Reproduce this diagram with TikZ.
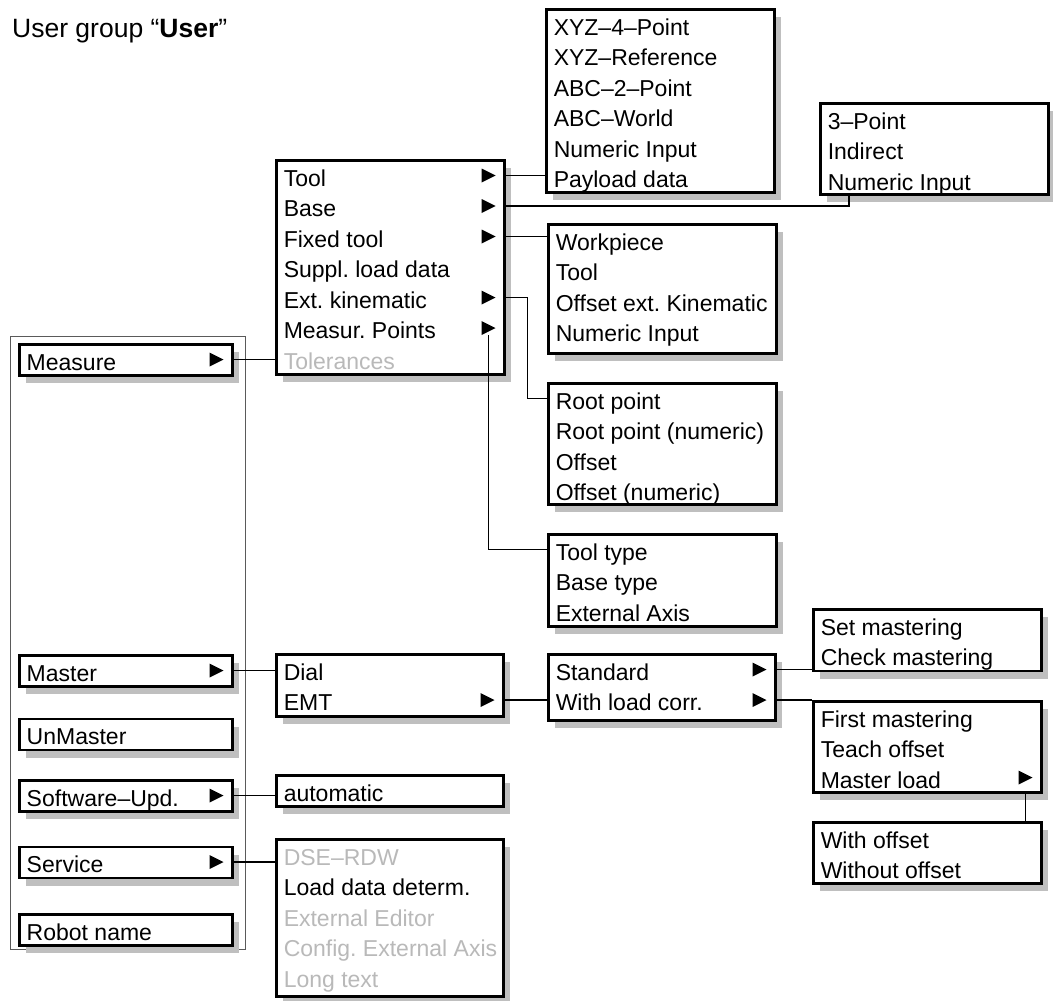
\documentclass[tikz,border=0pt]{standalone}
\usepackage{fontspec}
\setmainfont{Liberation Sans}
\usetikzlibrary{positioning, calc, shadows}
\definecolor{shadowgray}{RGB}{191,191,191}
\definecolor{offgray}{RGB}{185,185,185}
\definecolor{framegray}{RGB}{90,90,90}
\tikzset{
    menu/.style={draw, line width=2.5pt, fill=white, inner sep=0pt, anchor=north west,
        drop shadow={shadow xshift=7pt, shadow yshift=-8pt, opacity=1, fill=shadowgray}},
    groupframe/.style={draw=framegray, line width=1.2pt, inner sep=0pt, anchor=north west},
    link/.style={line width=1.3pt}
}
\newcommand{\menufont}{\fontsize{23}{30.5}\selectfont\frenchspacing}
\newcommand{\menustrut}{\rule[-4.5pt]{0pt}{30.5pt}}
\newcommand{\rows}[3]{\parbox[t][#2][t]{#1}{\menufont\leftskip=7.5pt\relax\menustrut#3}}
\newcommand{\greyed}[1]{\textcolor{offgray}{#1}}
\newcommand{\submark}[2]{\fill ($(#1.north east)+(-10,#2)$) -- ++(-14,-7) -- ++(0,14) -- cycle;}

\begin{document}
\begin{tikzpicture}[x=1pt, y=-1pt]

    \useasboundingbox (0,0) rectangle (1053,1001);

    \node[anchor=base west, inner sep=0pt, font=\fontsize{26.5}{32}\selectfont] (title) at (12,37) {User group “\textbf{User}”};

    \node[groupframe, minimum width=235pt, minimum height=613pt] (mainmenu) at (10,336) {};

    \node[menu] (measure) at (18,343) {\rows{213pt}{31pt}{Measure}};
    \node[menu] (master) at (18,654) {\rows{213pt}{31pt}{Master}};
    \node[menu, below=30pt of master.south west, anchor=north west] (unmaster) {\rows{213pt}{31pt}{UnMaster}};
    \node[menu, below=28pt of unmaster.south west, anchor=north west] (softupd) {\rows{213pt}{31pt}{Software–Upd.}};
    \node[menu, below=33pt of softupd.south west, anchor=north west] (service) {\rows{213pt}{31pt}{Service}};
    \node[menu, below=34pt of service.south west, anchor=north west] (robot) {\rows{213pt}{31pt}{Robot name}};

    \node[menu] (meas) at (275,159) {\rows{228pt}{214pt}{Tool\\Base\\Fixed tool\\Suppl. load data\\Ext. kinematic\\Measur. Points\\\greyed{Tolerances}}};
    \node[menu] (xyz) at (545,8) {\rows{228pt}{183pt}{XYZ–4–Point\\XYZ–Reference\\ABC–2–Point\\ABC–World\\Numeric Input\\Payload data}};
    \node[menu] (threept) at (819,102) {\rows{228pt}{91pt}{3–Point\\Indirect\\Numeric Input}};
    \node[menu] (fixed) at (547,223) {\rows{228pt}{129pt}{Workpiece\\Tool\\Offset ext. Kinematic\\Numeric Input}};
    \node[menu] (extkin) at (547,382) {\rows{228pt}{121pt}{Root point\\Root point (numeric)\\Offset\\Offset (numeric)}};
    \node[menu] (points) at (547,533) {\rows{228pt}{92pt}{Tool type\\Base type\\External Axis}};

    \node[menu] (dial) at (275,653) {\rows{227pt}{62pt}{Dial\\EMT}};
    \node[menu] (autoupd) at (275,774) {\rows{227pt}{31pt}{automatic}};
    \node[menu] (serv) at (275,838) {\rows{227pt}{157pt}{\greyed{DSE–RDW}\\Load data determ.\\\greyed{External Editor}\\\greyed{Config. External Axis}\\\greyed{Long text}}};
    \node[menu] (emt) at (547,653) {\rows{227pt}{66pt}{Standard\\With load corr.}};
    \node[menu] (setm) at (812,608) {\rows{228pt}{61.5pt}{Set mastering\\Check mastering}};
    \node[menu] (firstm) at (812,700) {\rows{228pt}{91pt}{First mastering\\Teach offset\\Master load}};
    \node[menu] (offs) at (812,821) {\rows{228pt}{61pt}{With offset\\Without offset}};

    \submark{measure}{16.5}
    \submark{master}{16.5}
    \submark{softupd}{16.5}
    \submark{service}{16.5}
    \submark{meas}{16.5}
    \submark{meas}{47}
    \submark{meas}{77.5}
    \submark{meas}{138.5}
    \submark{meas}{169}
    \submark{dial}{47}
    \submark{emt}{16.5}
    \submark{emt}{47}
    \submark{firstm}{77.5}

    \coordinate (measure-out) at ($(measure.north east)+(0,16.5)$);
    \coordinate (master-out) at ($(master.north east)+(0,16.5)$);
    \coordinate (softupd-out) at ($(softupd.north east)+(0,16.5)$);
    \coordinate (service-out) at ($(service.north east)+(0,16.5)$);
    \coordinate (m-tool) at ($(meas.north east)+(0,16.5)$);
    \coordinate (m-base) at ($(meas.north east)+(0,47)$);
    \coordinate (m-fixed) at ($(meas.north east)+(0,77.5)$);
    \coordinate (m-ext) at ($(meas.north east)+(0,138.5)$);
    \coordinate (m-points) at ($(meas.north east)+(-17,176)$);
    \coordinate (b-in) at ($(threept.south west)+(30,0)$);
    \coordinate (e-in) at ($(extkin.north west)+(0,16.5)$);
    \coordinate (p-in) at ($(points.north west)+(0,16.5)$);
    \coordinate (d-emt) at ($(dial.north east)+(0,47)$);
    \coordinate (s-std) at ($(emt.north east)+(0,16.5)$);
    \coordinate (s-load) at ($(emt.north east)+(0,47)$);

    \draw[link] (measure-out) -- (measure-out -| meas.west);
    \draw[link] (m-tool) -- (m-tool -| xyz.west);
    \draw[link] (m-base) -| (b-in);
    \draw[link] (m-fixed) -- (m-fixed -| fixed.west);
    \draw[link] (m-ext) -- ++(22,0) |- (e-in);
    \draw[link] (m-points) |- (p-in);
    \draw[link] (master-out) -- (master-out -| dial.west);
    \draw[link] (d-emt) -- (d-emt -| emt.west);
    \draw[link] (softupd-out) -- (softupd-out -| autoupd.west);
    \draw[link] (service-out) -- (service-out -| serv.west);
    \draw[link] (s-std) -- (s-std -| setm.west);
    \draw[link] (s-load) -- (s-load -| firstm.west);
    \draw[link] ($(firstm.south east)+(-17,0)$) -- ($(offs.north east)+(-17,0)$);

\end{tikzpicture}
\end{document}
